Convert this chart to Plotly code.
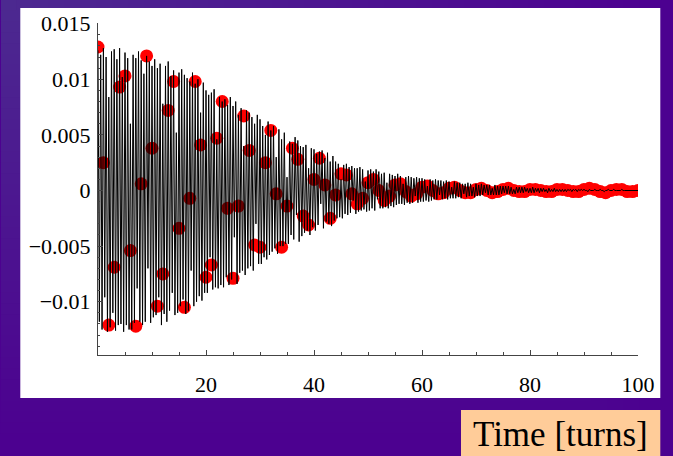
import numpy as np
import plotly.graph_objects as go

SCALE = 1e-4  # stored values are in units of 1e-4

# Turn-by-turn readout (one sample per turn, turns 0..100)
turn_signal = [
    129, 25, -121, -69, 93, 103, -54, -122, 6, 121,
    38, -104, -75, 72, 98, -34, -105, -7, 98, 41,
    -78, -67, 47, 80, -16, -79, -14, 67, 36, -49,
    -51, 25, 54, -3, -51, -14, 38, 28, -23, -31,
    10, 29, 5, -25, -4, 15, 14, -3, -12, -7,
    7, 10, 0, -9, -5, 5, 6, -1, -5, -3,
    3, 4, 0, -3, -2, 2, 3, 0, -2, -2,
    1, 2, 0, -2, -1, 1, 2, 0, -1, -1,
    1, 1, 0, -1, -1, 1, 1, 0, -1, -1,
    1, 2, 1, -1, -2, 0, 1, 1, -1, -1, 0,
]

# Fine-sampled trace (four samples per turn, turns 0..100); one row = two turns
SAMPLES_PER_TURN = 4
fine_signal = [
    126, -118, 122, -125, 128, -96, 120, -127,
    84, -123, 125, -110, 127, -126, 118, -121,
    128, -120, 102, -127, 124, -121, 119, -125,
    60, -125, 122, -119, 119, -88, 125, -118,
    117, -121, 105, -118, 121, -70, 116, -119,
    112, -114, 118, -112, 110, -96, 114, -121,
    78, -111, 112, -118, 116, -108, 103, -92,
    108, -112, 52, -110, 106, -104, 109, -98,
    104, -111, 101, -108, 98, -72, 106, -104,
    96, -100, 100, -95, 70, -99, 97, -92,
    90, -92, 86, -60, 88, -89, 91, -87,
    46, -88, 84, -85, 80, -87, 82, -78,
    77, -85, 84, -80, 76, -42, 80, -84,
    68, -74, 74, -72, 40, -76, 72, -70,
    70, -68, 66, -72, 60, -30, 68, -66,
    64, -66, 58, -60, 50, -62, 62, -58,
    54, -55, 58, -52, 30, -57, 55, -50,
    46, -50, 52, -48, 12, -48, 44, -40,
    42, -44, 48, -22, 45, -46, 40, -41,
    39, -38, 41, -36, 20, -40, 38, -33,
    37, -36, 33, -31, 35, -12, 36, -34,
    29, -28, 34, -30, 26, -32, 31, -27,
    26, -25, 24, -24, 10, -25, 23, -21,
    24, -22, 21, -20, 22, -9, 20, -21,
    20, -19, 21, -18, 19, -17, 8, -19,
    18, -18, 19, -16, 17, -18, 19, -8,
    17, -16, 15, -16, 16, -15, 7, -16,
    15, -14, 14, -15, 13, -13, 15, -12,
    13, -12, 6, -13, 12, -11, 13, -12,
    12, -11, 11, -5, 12, -11, 11, -10,
    11, -10, 10, -9, 4, -10, 10, -9,
    9, -8, 10, -8, 9, -4, 9, -8,
    8, -7, 9, -8, 8, -7, 3, -7,
    8, -7, 7, -6, 7, -7, 6, -3,
    6, -6, 7, -5, 6, -5, 3, -6,
    6, -5, 5, -5, 6, -4, 5, -2,
    5, -4, 5, -4, 2, -4, 5, -4,
    4, -4, 4, -3, 4, -2, 4, -3,
    4, -3, 3, -3, 1, -3, 3, -2,
    3, -2, 3, -2, 3, -1, 2, -2,
    2, -2, 3, -2, 2, -1, 2, -2,
    2, -1, 2, -1, 1, -2, 2, -1,
    1, -1, 2, -1, 1, -1, 1, -1,
    1, -1, 1, -1, 1, 0, 1, -1,
    1, 0, 1, -1, 1, 0, 1, 0,
    1, 0, 0, -1, 1, 0, 0, 0,
    1, 0, 0, 0, 1, 0, 0, -1,
    0, 0, 1, 0, 0, 0, 1, 0,
    0, 0, 0, 0, 1, 0, 0, 0,
    0, 0, 0, 0, 0, 0, 0, 0,
    0,
]

x_ticks = [20, 40, 60, 80, 100]
y_ticks = [-0.01, -0.005, 0, 0.005, 0.01, 0.015]
y_ticklabels = ["\u22120.01", "\u22120.005", "0", "0.005", "0.01", "0.015"]
axis_title = "Time [turns]"

turns = np.arange(len(turn_signal))
fine_t = np.arange(len(fine_signal)) / SAMPLES_PER_TURN
turn_y = np.array(turn_signal) * SCALE
fine_y = np.array(fine_signal) * SCALE

SERIF = "Liberation Serif, Times New Roman, serif"
PURPLE = "#4c0190"

fig = go.Figure()
fig.add_trace(go.Scatter(
    x=turns, y=turn_y, mode="markers",
    marker=dict(color="#ff0000", size=13, line=dict(width=0)),
    showlegend=False, hoverinfo="skip",
))
fig.add_trace(go.Scatter(
    x=fine_t, y=fine_y, mode="lines",
    line=dict(color="black", width=1),
    showlegend=False, hoverinfo="skip",
))

# background: purple canvas with a soft lighter glow toward the top-left
shapes = []
left, right, top, bottom = -0.181, 1.066, 1.07, -0.305
steps = 40
for i in range(steps):
    f = 1 - i / steps
    shapes.append(dict(
        type="rect", xref="paper", yref="paper", layer="below",
        x0=left, x1=left + (right - left) * f * 0.95,
        y0=top - (top - bottom) * f * 0.95, y1=top,
        fillcolor="rgba(150,130,205,0.016)", line=dict(width=0),
    ))
# white panel behind the axes
shapes.append(dict(
    type="rect", xref="paper", yref="paper", layer="below",
    x0=-0.1439, x1=1.0413, y0=-0.1295, y1=1.0452,
    fillcolor="white", line=dict(width=0),
))
# label box
shapes.append(dict(
    type="rect", xref="paper", yref="paper", layer="below",
    x0=0.6722, x1=1.0413, y0=-0.3042, y1=-0.1657,
    fillcolor="#ffcc99", line=dict(width=0),
))

fig.update_layout(
    width=673, height=456,
    margin=dict(l=97.7, r=35.3, t=23, b=101),
    paper_bgcolor=PURPLE, plot_bgcolor="white",
    shapes=shapes,
    annotations=[dict(
        text=axis_title, xref="paper", yref="paper",
        x=(0.6722 + 1.0413) / 2, y=-0.238, xanchor="center", yanchor="middle",
        showarrow=False, font=dict(family=SERIF, size=35, color="black"),
    )],
)
fig.update_xaxes(
    range=[0, 100], showgrid=False, zeroline=False,
    showline=True, linecolor="#444", linewidth=1,
    tickmode="array", tickvals=x_ticks,
    ticks="inside", ticklen=5, tickcolor="#444", tickwidth=1,
    minor=dict(tickmode="linear", tick0=0, dtick=5, ticks="inside", ticklen=3, tickcolor="#444"),
    tickfont=dict(family=SERIF, size=22, color="black"),
    ticklabelstandoff=10,
)
fig.update_yaxes(
    range=[-0.01479, 0.01506], showgrid=False, zeroline=False,
    showline=True, linecolor="#444", linewidth=1,
    tickmode="array", tickvals=y_ticks, ticktext=y_ticklabels,
    ticks="inside", ticklen=5, tickcolor="#444", tickwidth=1,
    minor=dict(tickmode="linear", tick0=0, dtick=0.001, ticks="inside", ticklen=2, tickcolor="#444"),
    tickfont=dict(family=SERIF, size=22, color="black"),
    ticklabelstandoff=2,
)

fig.write_html("out.html")
